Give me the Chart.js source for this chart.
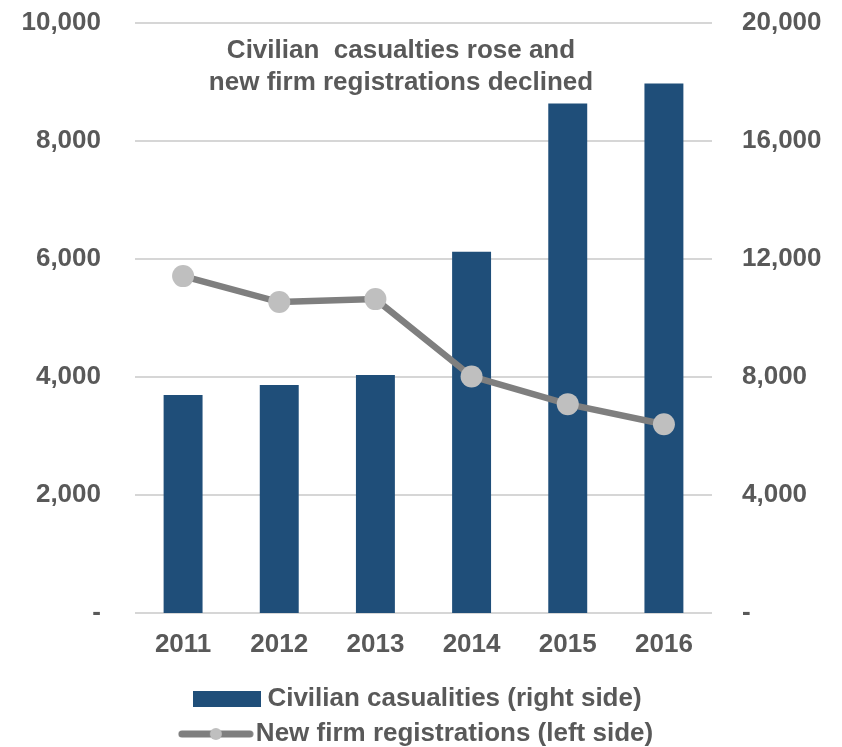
<!DOCTYPE html>
<html>
<head>
<meta charset="utf-8">
<script src="https://cdn.jsdelivr.net/npm/chart.js@4.4.0/dist/chart.umd.min.js"></script>
<style>
  html, body { margin: 0; padding: 0; background: #fff; }
  #wrap { width: 842px; height: 747px; }
</style>
</head>
<body>
<div id="wrap"><canvas id="myChart" width="842" height="747"></canvas></div>
<script>
// data
const years = ['2011', '2012', '2013', '2014', '2015', '2016'];
const casualties = [7390, 7730, 8070, 12250, 17270, 17950];   // right axis
const registrations = [5710, 5270, 5320, 4010, 3540, 3200];  // left axis
const leftTicks = [0, 2000, 4000, 6000, 8000, 10000];
const rightTicks = [0, 4000, 8000, 12000, 16000, 20000];
const noteLines = ['Civilian  casualties rose and', 'new firm registrations declined'];

const FONT = '"Liberation Sans", Arial, sans-serif';
const TEXT = '#595959';
const BAR = '#1f4e79';
const LINE = '#7f7f7f';
const DOT = '#bfbfbf';

Chart.defaults.font.family = FONT;
Chart.defaults.font.size = 26;
Chart.defaults.font.weight = 'bold';
Chart.defaults.color = TEXT;

function fmt(v) {
    return v === 0 ? '-' : v.toLocaleString('en-US');
}

// legend symbols
function barSymbol() {
    const c = document.createElement('canvas');
    c.width = 68; c.height = 16;
    const g = c.getContext('2d');
    g.fillStyle = BAR;
    g.fillRect(0, 0, 68, 16);
    return c;
}
function lineSymbol() {
    const c = document.createElement('canvas');
    c.width = 76; c.height = 14;
    const g = c.getContext('2d');
    g.strokeStyle = LINE;
    g.lineWidth = 7;
    g.lineCap = 'round';
    g.beginPath();
    g.moveTo(4, 7); g.lineTo(72, 7);
    g.stroke();
    g.fillStyle = DOT;
    g.beginPath();
    g.arc(38, 7, 6, 0, Math.PI * 2);
    g.fill();
    return c;
}

const notePlugin = {
    id: 'note',
    afterDraw(chart) {
        const {ctx, chartArea} = chart;
        ctx.save();
        ctx.font = 'bold 26px ' + FONT;
        ctx.fillStyle = TEXT;
        ctx.textAlign = 'center';
        ctx.textBaseline = 'middle';
        const x = chartArea.left + chartArea.width * 0.461;
        noteLines.forEach((t, i) => ctx.fillText(t, x, chartArea.top + 28 + i * 32));
        ctx.restore();
    }
};

// keep y axes from pushing the plot area in by their label padding
function fixY(width) {
    return function (scale) {
        scale.width = width;
        scale.paddingTop = 0;
        scale.paddingBottom = 0;
    };
}

const ctx = document.getElementById('myChart');
const myChart = new Chart(ctx, {
    type: 'bar',
    data: {
        labels: years,
        datasets: [{
            type: 'line',
            label: 'New firm registrations (left side)',
            data: registrations,
            yAxisID: 'yLeft',
            borderColor: LINE,
            borderWidth: 6.5,
            pointRadius: 11,
            pointBackgroundColor: DOT,
            pointBorderColor: DOT,
            pointBorderWidth: 0,
            order: 0
        }, {
            label: 'Civilian casualities (right side)',
            data: casualties,
            yAxisID: 'yRight',
            backgroundColor: BAR,
            categoryPercentage: 1,
            barPercentage: 0.405,
            order: 1
        }]
    },
    options: {
        responsive: false,
        animation: false,
        layout: { padding: { top: 23, bottom: -10, left: 0, right: 0 } },
        plugins: {
            tooltip: { enabled: false },
            legend: {
                position: 'bottom',
                labels: {
                    usePointStyle: true,
                    pointStyleWidth: 54,
                    padding: 9,
                    color: TEXT,
                    font: { size: 26, weight: 'bold' },
                    generateLabels(chart) {
                        return [{
                            text: 'Civilian casualities (right side)',
                            pointStyle: barSymbol(),
                            datasetIndex: 1,
                            fontColor: TEXT,
                            lineWidth: 0
                        }, {
                            text: 'New firm registrations (left side)',
                            pointStyle: lineSymbol(),
                            datasetIndex: 0,
                            fontColor: TEXT,
                            lineWidth: 0
                        }];
                    }
                }
            }
        },
        scales: {
            x: {
                afterFit(scale) { scale.height = 64; },
                grid: { display: false, drawTicks: false },
                border: { display: false },
                ticks: { padding: 16, color: TEXT }
            },
            yLeft: {
                position: 'left',
                min: 0,
                max: 10000,
                afterBuildTicks(scale) { scale.ticks = leftTicks.map(v => ({value: v})); },
                afterFit: fixY(135),
                grid: { color: '#d6d6d6', lineWidth: 2, drawTicks: false },
                border: { display: false },
                ticks: { padding: 34, color: TEXT, callback: fmt }
            },
            yRight: {
                position: 'right',
                min: 0,
                max: 20000,
                afterBuildTicks(scale) { scale.ticks = rightTicks.map(v => ({value: v})); },
                afterFit: fixY(130),
                grid: { display: false, drawTicks: false },
                border: { display: false },
                ticks: { padding: 30, color: TEXT, callback: fmt }
            }
        }
    },
    plugins: [notePlugin]
});
</script>
</body>
</html>
